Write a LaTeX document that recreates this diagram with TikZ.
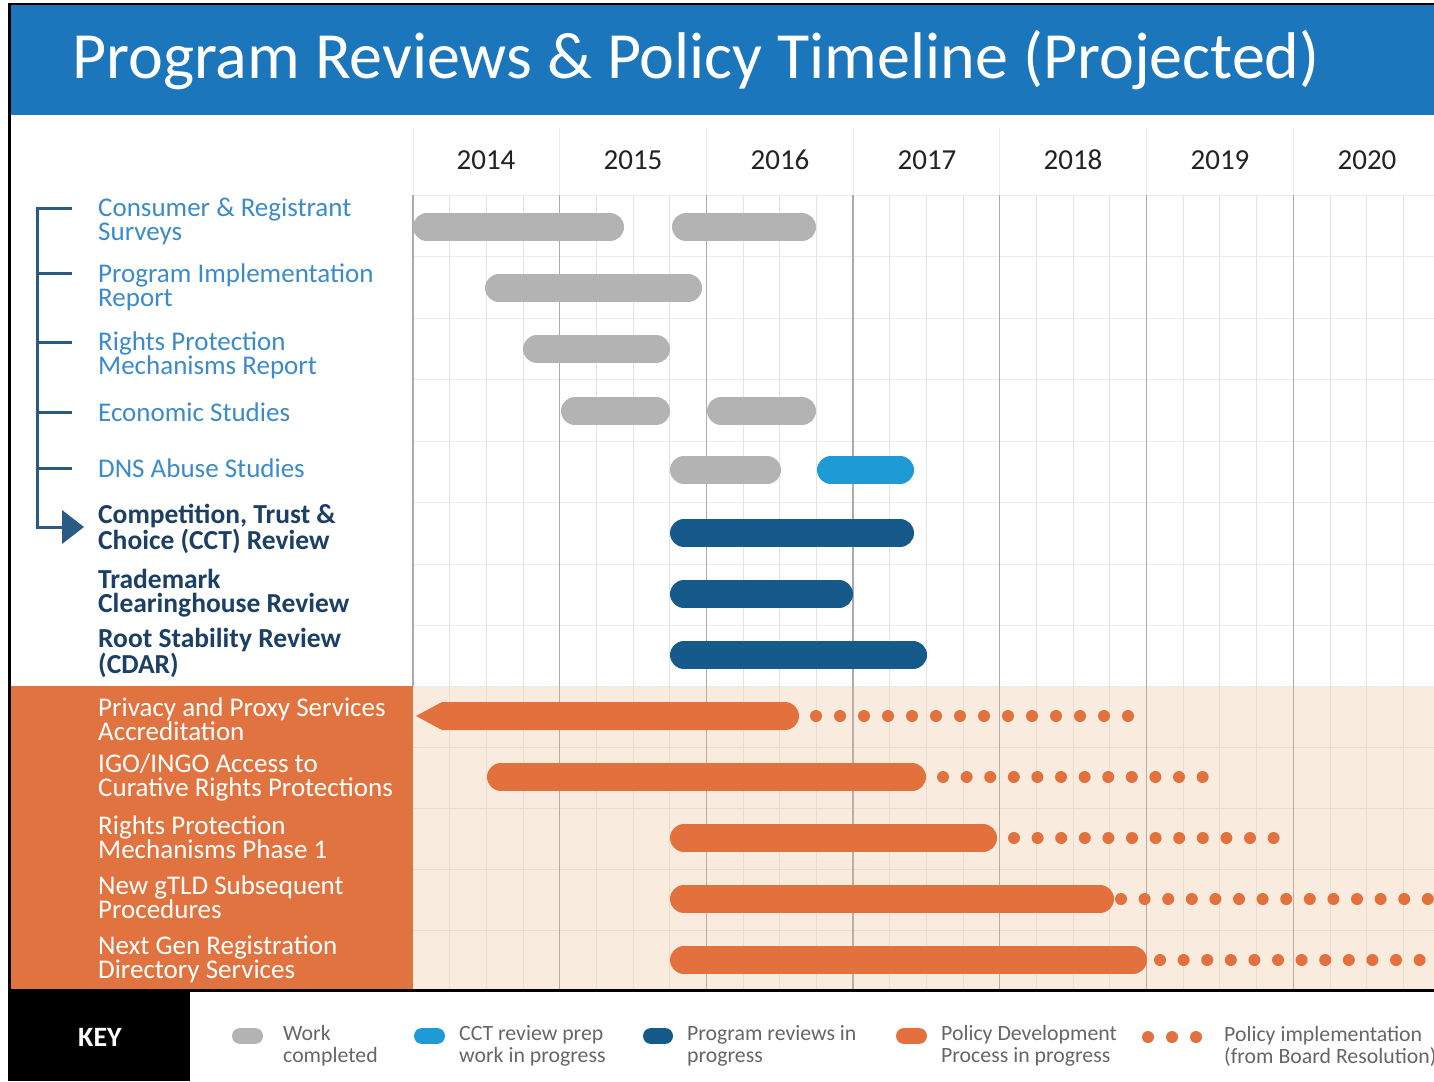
\documentclass[tikz,border=0pt]{standalone}
\usepackage{fontspec}
\setmainfont{Carlito}
\definecolor{headblue}{HTML}{1B76BC}
\definecolor{textblue}{HTML}{3B8BCB}
\definecolor{navy}{HTML}{1C3F66}
\definecolor{bracket}{HTML}{2B5A82}
\definecolor{bargray}{HTML}{B3B3B3}
\definecolor{barlight}{HTML}{1E9BD7}
\definecolor{bardark}{HTML}{165A8C}
\definecolor{barorange}{HTML}{E2713D}
\definecolor{blockorange}{HTML}{E0733F}
\definecolor{peach}{HTML}{FAEBDF}
\definecolor{yeartext}{HTML}{222222}
\definecolor{keygray}{HTML}{666666}
\definecolor{qline}{HTML}{E3E3E3}
\definecolor{yline}{HTML}{ABABAB}
\definecolor{qlineo}{HTML}{EADCCF}
\definecolor{ylineo}{HTML}{B8AEA4}
\definecolor{hline}{HTML}{ECECEC}
\begin{document}
\begin{tikzpicture}[x=1pt,y=-1pt,
  lbl/.style={anchor=west, inner sep=0pt, align=left, font=\fontsize{27}{24}\selectfont, text=textblue},
  lblb/.style={anchor=west, inner sep=0pt, align=left, font=\fontsize{27.5}{24}\selectfont\bfseries, text=navy},
  lblw/.style={anchor=west, inner sep=0pt, align=left, font=\fontsize{27}{24}\selectfont, text=white},
  bar/.style={line width=28pt, line cap=round},
  yr/.style={font=\fontsize{29}{30}\selectfont, text=yeartext, inner sep=0pt},
  keytxt/.style={anchor=west, align=left, inner sep=0pt, font=\fontsize{21.8}{22}\selectfont, text=keygray},
  pill/.style={line width=16pt, line cap=round},
  impl/.style={fill=barorange, draw=none},
  brk/.style={draw=bracket, line width=3pt}
]
\useasboundingbox (0,0) rectangle (1434,1081);
% backgrounds
\fill[white] (0,0) rectangle (1434,1081);
\fill[headblue] (10,5) rectangle (1434,115);
\fill[peach] (413,686) rectangle (1434,990);
\fill[blockorange] (10,686) rectangle (413,990);
% header grid
\foreach \i in {0,...,6} \draw[hline, line width=1pt] (413+\i*146.7,128) -- (413+\i*146.7,195);
% grid white area
\foreach \k in {0,...,8} \draw[hline, line width=1pt] (413,195+\k*61.5) -- (1434,195+\k*61.5);
\foreach \i in {1,...,27} \draw[qline, line width=1pt] (413+\i*36.68,195) -- (413+\i*36.68,686);
\foreach \i in {1,...,6} \draw[yline, line width=1.3pt] (413+\i*146.7,195) -- (413+\i*146.7,686);
\draw[yline, line width=1.3pt] (413,195) -- (413,686);
% grid orange area
\foreach \k in {1,...,4} \draw[qlineo, line width=1pt] (413,686+\k*61) -- (1434,686+\k*61);
\foreach \i in {1,...,27} \draw[qlineo, line width=1pt] (413+\i*36.68,686) -- (413+\i*36.68,990);
\foreach \i in {1,...,6} \draw[ylineo, line width=1.3pt] (413+\i*146.7,686) -- (413+\i*146.7,990);
% borders
\draw[black, line width=3pt] (9,3) -- (9,1081);
\draw[black, line width=2pt] (8,4) -- (1434,4);
\draw[black, line width=3pt] (9,990) -- (1434,990);
\fill[black] (8,991) rectangle (190,1081);
% title
\node[anchor=west, inner sep=0pt, text=white, font=\fontsize{66}{66}\selectfont] (title) at (72,60) {Program Reviews \& Policy Timeline (Projected)};
% years
\node[yr] (y14) at (486,160) {2014};
\node[yr] (y15) at (633,160) {2015};
\node[yr] (y16) at (780,160) {2016};
\node[yr] (y17) at (927,160) {2017};
\node[yr] (y18) at (1073,160) {2018};
\node[yr] (y19) at (1220,160) {2019};
\node[yr] (y20) at (1367,160) {2020};
% labels
\node[lbl] (l1) at (98,221) {Consumer \& Registrant\\Surveys};
\node[lbl] (l2) at (98,287) {Program Implementation\\Report};
\node[lbl] (l3) at (98,355) {Rights Protection\\Mechanisms Report};
\node[lbl] (l4) at (98,412) {Economic Studies};
\node[lbl] (l5) at (98,468) {DNS Abuse Studies};
\node[lblb] (l6) at (98,529) {Competition, Trust \&\\Choice (CCT) Review};
\node[lblb] (l7) at (98,593) {Trademark\\Clearinghouse Review};
\node[lblb] (l8) at (98,653) {Root Stability Review\\(CDAR)};
\node[lblw] (l9) at (98,719) {Privacy and Proxy Services\\Accreditation};
\node[lblw] (l10) at (98,777) {IGO/INGO Access to\\Curative Rights Protections};
\node[lblw] (l11) at (98,837) {Rights Protection\\Mechanisms Phase 1};
\node[lblw] (l12) at (98,897) {New gTLD Subsequent\\Procedures};
\node[lblw] (l13) at (98,959) {Next Gen Registration\\Directory Services};
% bracket
\draw[brk] (72,208) -- (37,208) -- (37,527) -- (66,527);
\foreach \yy in {273,342,412,468} \draw[brk] (37,\yy) -- (72,\yy);
\fill[bracket] (62,510) -- (84,527) -- (62,544) -- cycle;
% bars
\draw[bar, bargray] (427,227) -- (610,227);
\draw[bar, bargray] (686,227) -- (802,227);
\draw[bar, bargray] (499,288) -- (688,288);
\draw[bar, bargray] (537,349) -- (656,349);
\draw[bar, bargray] (575,411) -- (656,411);
\draw[bar, bargray] (721,411) -- (802,411);
\draw[bar, bargray] (684,470) -- (767,470);
\draw[bar, barlight] (831,470) -- (900,470);
\draw[bar, bardark] (684,533) -- (900,533);
\draw[bar, bardark] (684,594) -- (839,594);
\draw[bar, bardark] (684,655) -- (913,655);
% orange bars
\fill[barorange] (416,716) -- (442,702) -- (785,702) arc[start angle=-90, end angle=90, radius=14] -- (442,730) -- cycle;
\draw[bar, barorange] (501,777) -- (912,777);
\draw[bar, barorange] (684,838) -- (983,838);
\draw[bar, barorange] (684,899) -- (1100,899);
\draw[bar, barorange] (684,960) -- (1133,960);
% implementation dots
\foreach \i in {0,...,13} \fill[impl] (816+\i*24.0,716) circle (6);
\foreach \i in {0,...,11} \fill[impl] (943+\i*23.6,777) circle (6);
\foreach \i in {0,...,11} \fill[impl] (1014+\i*23.6,838) circle (6);
\foreach \i in {0,...,13} \fill[impl] (1121+\i*23.6,899) circle (6);
\foreach \i in {0,...,12} \fill[impl] (1160+\i*23.6,960) circle (6);
% key
\node[text=white, font=\fontsize{28}{28}\selectfont\bfseries, inner sep=0pt] (key) at (100,1037) {KEY};
\draw[pill, bargray] (240,1036) -- (255,1036);
\node[keytxt] (k1) at (283,1046) {Work\\completed};
\draw[pill, barlight] (422,1036) -- (437,1036);
\node[keytxt] (k2) at (459,1046) {CCT review prep\\work in progress};
\draw[pill, bardark] (651,1036) -- (665,1036);
\node[keytxt] (k3) at (687,1046) {Program reviews in\\progress};
\draw[pill, barorange] (904,1036) -- (919,1036);
\node[keytxt] (k4) at (941,1046) {Policy Development\\Process in progress};
\foreach \i in {0,1,2} \fill[impl] (1148+\i*24,1037) circle (6);
\node[keytxt] (k5) at (1224,1046) {Policy implementation\\(from Board Resolution)};
\end{tikzpicture}
\end{document}
